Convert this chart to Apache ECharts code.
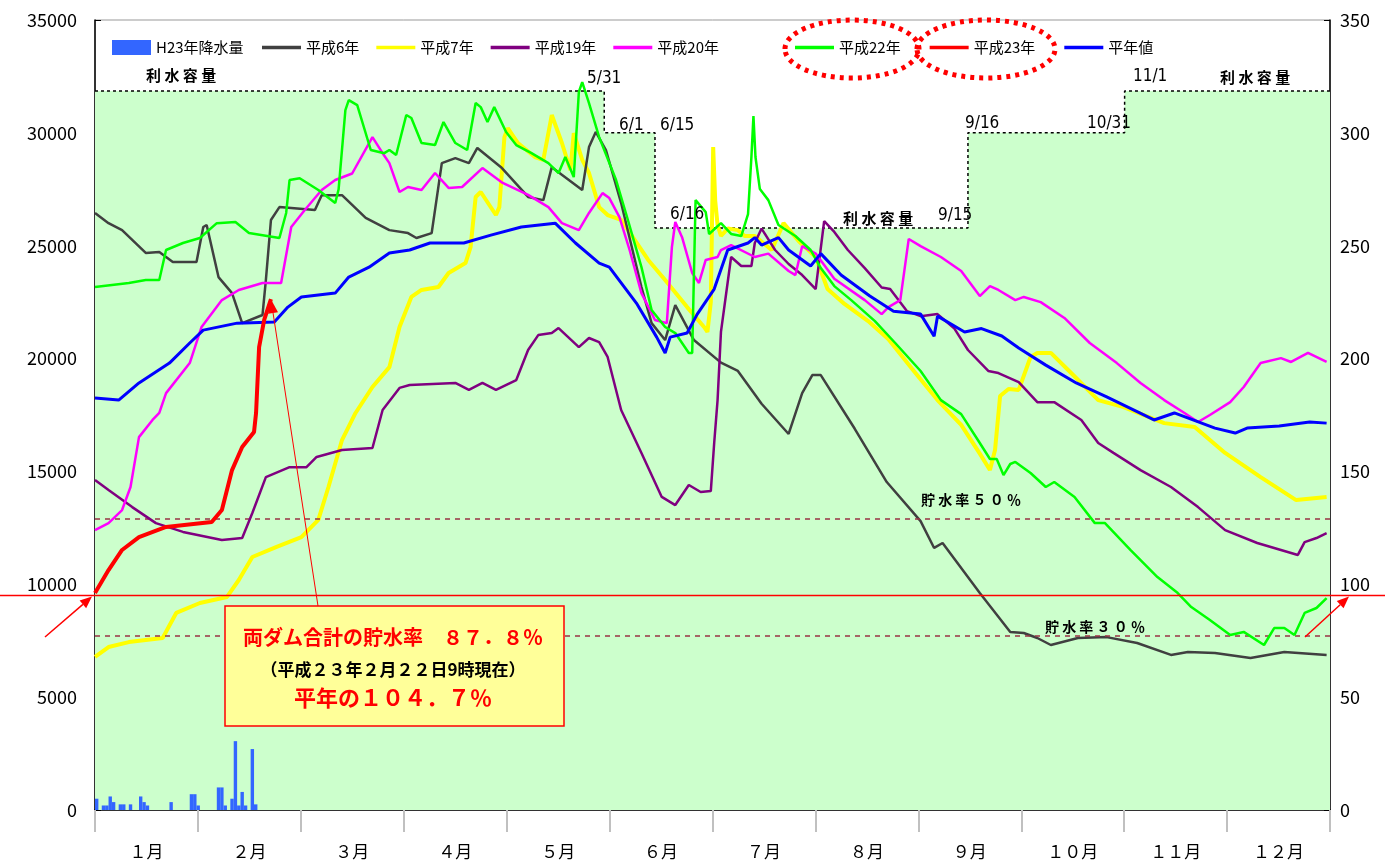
<!DOCTYPE html>
<html>
<head>
<meta charset="utf-8">
<script src="https://cdn.jsdelivr.net/npm/echarts@6/dist/echarts.min.js"></script>
<style>
html, body { margin: 0; padding: 0; background: #fff; }
#chart { width: 1385px; height: 864px; }
</style>
</head>
<body>
<div id="chart"></div>
<script>
'use strict';
var FONT = "'Noto Sans CJK JP', sans-serif";

var months = ['１月', '２月', '３月', '４月', '５月', '６月', '７月', '８月', '９月', '１０月', '１１月', '１２月'];

// 利水容量 (day of year, 千m3)
var capacity = [[0, 31850], [150.5, 31850], [150.5, 30000], [165.5, 30000], [165.5, 25780], [258, 25780],
	[258, 30000], [304.3, 30000], [304.3, 31850], [365, 31850]];
var rate50 = 12890;
var rate30 = 7734;
var nowLevel = 9500;

// H23年降水量 (mm)
var rainDays = [0, 2, 3, 4, 5, 7, 8, 10, 13, 14, 15, 22, 28, 29, 30, 36, 37, 38, 40, 41, 42, 43, 44, 46, 47];
var rainMm = [5, 2, 2, 6, 3.5, 2.5, 2.5, 2.5, 6, 3.5, 2, 3.5, 7, 7, 2, 10, 10, 2, 5, 30.5, 2, 8, 2, 27, 2.5];

var heisei6 = [[0,26450],[4,26000],[8,25690],[15,24680],[19,24720],[23,24280],[30,24280],[32,25830],[33,25920],
	[36.5,23610],[40.5,22900],[43.5,21570],[49.5,21930],[50.5,23480],[52,26140],[54.5,26710],[65,26580],[67,27240],
	[73,27240],[80,26230],[87,25690],[92.5,25560],[95,25340],[99.5,25560],[102.5,28660],[106.5,28880],[110.5,28660],
	[113,29330],[120,28480],[128,27160],[132.5,27020],[135,28480],[144,27470],[146,29370],[148,30040],[151,29240],
	[155.5,26890],[161.5,23170],[164.5,21570],[168.5,20820],[171.5,22370],[177,20820],[185,19820],[190,19450],
	[197,18000],[205,16660],[209,18470],[212,19270],[214.5,19270],[224.5,16900],[234,14530],[244,12800],[248,11610],
	[250.5,11830],[261.5,9610],[270.5,7890],[274.5,7840],[278.5,7620],[282.5,7310],[290.5,7620],[299,7660],
	[308,7400],[318,6870],[323,7000],[331,6960],[341.5,6730],[351.5,7000],[364,6870]];

var heisei7 = [[0,6780],[4,7220],[10,7440],[20,7620],[24,8730],[31,9170],[39,9440],[42.5,10190],[46.5,11210],
	[53.5,11650],[61,12090],[66,12850],[69,14310],[73,16390],[77,17590],[82,18740],[87,19620],[90,21400],[93.5,22730],
	[96.5,23040],[101.5,23170],[104.5,23790],[109.5,24230],[111,24940],[112.5,27160],[114,27380],[118.5,26360],
	[119.5,26710],[121,29810],[122,30210],[125,29550],[130,28930],[132.5,28800],[135,30790],[138,29550],[140.5,28350],
	[141.5,29990],[144,28800],[146,28220],[149,26710],[151.5,26360],[155.5,26140],[163.5,24370],[168.5,23480],
	[175,22280],[180,21400],[181,21180],[182,22500],[182.7,29370],[183.3,27000],[184,25920],[185,25430],[187,25760],
	[190,25690],[192,25430],[195,25430],[200,24810],[203.5,26000],[208,25200],[213,24500],[216.5,23080],[221.5,22420],
	[228.5,21660],[234.5,20860],[242,19450],[249,18160],[256,17060],[261.5,15790],[264.5,15060],[266,15950],
	[267.5,18340],[270,18650],[273,18610],[276.5,20070],[278.5,20250],[282.5,20250],[288.5,19360],[296.5,18160],
	[304,17850],[316,17140],[325,16970],[334,15820],[344.5,14750],[355,13730],[364,13870]];

var heisei19 = [[0,14620],[4,14180],[11,13420],[18,12710],[26,12320],[37.5,11960],[43.5,12050],[46.5,13160],
	[50.5,14750],[57.5,15190],[62.5,15190],[65.5,15640],[73,15950],[82,16040],[85,17720],[90,18700],[93,18830],
	[106.5,18920],[110.5,18610],[114.5,18920],[118.5,18610],[124.5,19050],[128,20380],[131,21040],[135,21130],
	[137,21350],[143,20510],[146,20910],[149,20730],[151.5,20070],[155.5,17720],[161.5,15820],[167.5,13870],
	[171.5,13510],[175.5,14400],[179,14090],[182,14130],[183,16260],[184,18160],[185,21180],[188,24500],[191,24100],
	[194,24100],[195,25120],[197,25760],[201,24810],[205,24190],[209,23700],[213,23080],[215.5,26090],[218.5,25610],
	[222.5,24810],[227.5,24010],[232.5,23150],[235,23080],[240,22100],[244,21880],[249,21970],[254,21330],
	[258,20380],[264,19450],[267,19360],[273,18960],[278.5,18070],[283.5,18070],[291.5,17280],[296.5,16260],
	[301,15820],[309,15060],[318,14310],[326,13420],[334,12400],[343.5,11830],[350.5,11520],[355.5,11300],
	[357.5,11870],[361,12050],[364,12270]];

var heisei20 = [[0,12400],[4,12710],[8,13290],[10.5,14310],[13,16520],[17,17280],[19,17590],[21,18470],[28,19800],
	[31.5,21400],[37.5,22590],[42.5,23040],[49.5,23350],[55,23350],[58,25830],[62,26580],[67,27470],[71,27910],
	[76,28200],[82,29810],[85,29100],[87,28660],[90,27380],[92.5,27600],[96.5,27470],[100.5,28220],[104.5,27560],
	[108.5,27600],[114.5,28440],[120.5,27780],[128,27250],[134,26710],[138,26000],[143,25690],[146,26450],
	[150,27330],[152,27110],[155,26270],[158,24810],[161.5,22900],[165.5,21710],[169,21570],[170.5,24940],
	[171.5,26050],[173.5,25380],[176.5,23790],[178.5,23350],[180.5,24370],[184,24500],[185,24810],[188,25030],
	[195,24500],[199,24650],[205,23880],[207,23700],[209,24980],[213,24650],[218.5,23540],[227.5,22590],
	[232.5,21970],[234.5,22280],[238,22590],[240.5,25300],[244,24980],[250,24500],[256,23880],[261.5,22770],
	[264.5,23210],[267,23040],[272,22590],[274.5,22730],[279.5,22500],[286.5,21800],[294,20690],[302,19800],
	[309,18920],[316,18160],[322,17590],[326,17190],[329.5,17500],[335.5,18070],[339.5,18740],[344.5,19800],
	[350.5,20020],[353.5,19850],[358.5,20250],[364,19850]];

var heisei22 = [[0,23170],[10,23350],[15,23480],[19,23480],[21,24810],[26,25120],[31,25340],[36,26000],[41.5,26050],
	[45.5,25560],[54.5,25340],[56.5,26450],[57.5,27910],[60.5,27990],[66,27470],[71,26890],[72,27500],[74,31010],
	[75,31450],[77.5,31230],[81.5,29240],[85.5,29100],[87,29240],[89,29020],[92,30790],[93.5,30660],[96.5,29550],
	[100.5,29460],[103,30480],[106.5,29550],[110,29240],[112.5,31320],[114,31140],[116,30480],[118,31140],
	[121.5,30040],[124.5,29460],[129,29100],[134,28660],[137,28220],[139,28930],[141.5,28040],[143,31810],
	[144,32250],[146,31320],[149,29810],[154,27910],[157.5,26140],[161.5,24050],[164.5,22150],[168.5,21400],
	[171.5,21130],[175.5,20250],[176.5,20250],[177.5,27020],[180.5,26490],[181.5,25520],[185,26000],[188,25520],
	[191,25430],[193,26400],[194,28930],[194.6,30740],[195.2,28930],[196.5,27510],[199,27020],[202,25920],
	[207,25430],[211.5,24810],[214.5,24010],[218.5,23210],[223.5,22590],[230.5,21660],[236.5,20690],[244,19450],
	[250,18160],[256,17540],[261.5,16260],[264.5,15550],[266.5,15550],[268.5,14840],[270.5,15330],[272,15420],
	[276.5,14930],[281,14310],[283.5,14530],[289.5,13870],[295.5,12710],[298.5,12710],[306,11520],[314,10320],
	[320,9610],[324,8990],[329.5,8420],[335.5,7750],[339.5,7890],[345.5,7310],[348.5,8060],[351.5,8060],
	[354.5,7750],[357.5,8730],[361,8950],[364,9390]];

var heisei23 = [[0,9610],[4,10630],[8,11520],[13,12090],[21,12540],[34.5,12760],[37.5,13290],[40.5,15060],
	[43.5,16080],[47,16750],[47.6,17590],[48.5,20510],[50,21710],[52,22630]];

var normalYear = [[0,18250],[7,18160],[13,18920],[22,19800],[28,20690],[32,21260],[42,21570],[53,21620],[57,22280],
	[61,22730],[71,22900],[75,23610],[81,24050],[87,24680],[93,24810],[99,25120],[109,25120],[117,25470],[126,25830],
	[136,26000],[142,25120],[149,24230],[152,24050],[160,22460],[166,20950],[168.5,20250],[170,20950],[175,21130],
	[178,21970],[183,23080],[187,24810],[193,25120],[195,25360],[197,25030],[202,25360],[205,24810],[211.5,24100],
	[214.5,24650],[220.5,23700],[229,22770],[236,22100],[244,21970],[248,20990],[249,21880],[257,21180],[262,21330],
	[268,21000],[273,20470],[281,19710],[290,18920],[299,18300],[313,17280],[319,17590],[331,16920],[337,16700],
	[340.5,16920],[350,17010],[359,17190],[364,17140]];

function lineSeries(name, data, color, width, z) {
	return {
		name: name,
		type: 'line',
		data: data,
		symbol: 'none',
		z: z,
		lineStyle: {color: color, width: width},
		itemStyle: {color: color}
	};
}

function legendBlock(left, top, gap, names, h) {
	return {
		top: top,
		left: left,
		padding: 0,
		itemWidth: 39,
		itemHeight: h,
		itemGap: gap,
		icon: 'rect',
		textStyle: {fontSize: 15, color: '#000', fontFamily: FONT},
		data: names
	};
}

var chart = echarts.init(document.getElementById('chart'));
var option = {
	animation: false,
	textStyle: {fontFamily: FONT},
	grid: {left: 95, right: 55, top: 20, bottom: 54, show: true, borderColor: '#999', borderWidth: 1},
	legend: [
		legendBlock(112, 40, 17, ['H23年降水量'], 15),
		legendBlock(262, 40, 17, ['平成6年', '平成7年', '平成19年', '平成20年'], 3.5),
		legendBlock(795, 40, 29, ['平成22年', '平成23年', '平年値'], 3.5)
	],
	xAxis: [
		{
			type: 'value', min: 0, max: 365,
			axisLine: {show: true, lineStyle: {color: '#000', width: 1.5}},
			axisTick: {show: false}, axisLabel: {show: false}, splitLine: {show: false}
		},
		{
			type: 'category', data: months, position: 'bottom', offset: 5, boundaryGap: true,
			axisLine: {show: false},
			axisTick: {show: true, length: 22, lineStyle: {color: '#c0c0c0', width: 2}},
			axisLabel: {margin: 28, fontSize: 17, color: '#000', fontFamily: FONT},
			splitLine: {show: false}
		}
	],
	yAxis: [
		{
			type: 'value', min: 0, max: 35000, interval: 5000,
			axisLine: {show: true, lineStyle: {color: '#000', width: 1.5}},
			axisTick: {show: true, inside: true, length: 6, lineStyle: {color: '#000'}},
			axisLabel: {fontSize: 18, color: '#000', margin: 18, fontFamily: FONT,
				formatter: function (v) { return String(v); }},
			splitLine: {show: false}
		},
		{
			type: 'value', min: 0, max: 350, interval: 50, position: 'right',
			axisLine: {show: true, lineStyle: {color: '#000', width: 1.5}},
			axisTick: {show: true, inside: true, length: 6, lineStyle: {color: '#000'}},
			axisLabel: {fontSize: 18, color: '#000', margin: 10, fontFamily: FONT},
			splitLine: {show: false}
		}
	],
	series: [
		{
			name: '利水容量',
			type: 'line',
			data: capacity,
			symbol: 'none',
			silent: true,
			z: 1,
			lineStyle: {color: '#000', width: 1.5, type: [3, 3]},
			areaStyle: {color: '#ccffcc', opacity: 1},
			markLine: {
				silent: true,
				symbol: 'none',
				label: {show: false},
				lineStyle: {color: '#993344', width: 1.5, type: [5, 5]},
				data: [{yAxis: rate50}, {yAxis: rate30}]
			}
		},
		{
			name: 'H23年降水量',
			type: 'bar',
			yAxisIndex: 1,
			barWidth: 3.4,
			z: 2,
			itemStyle: {color: '#3366ff'},
			data: rainDays.map(function (d, i) { return [d + 0.5, rainMm[i]]; })
		},
		lineSeries('平成7年', heisei7, '#ffff00', 4, 3),
		lineSeries('平成6年', heisei6, '#404040', 2.5, 4),
		lineSeries('平成19年', heisei19, '#800080', 2.5, 5),
		lineSeries('平成20年', heisei20, '#ff00ff', 2.5, 6),
		lineSeries('平成22年', heisei22, '#00ff00', 2.5, 7),
		lineSeries('平年値', normalYear, '#0000ff', 3, 8),
		lineSeries('平成23年', heisei23, '#ff0000', 4, 9)
	]
};
chart.setOption(option);

// annotations
function arrow(x1, y1, x2, y2, len, half, width) {
	var dx = x2 - x1, dy = y2 - y1;
	var L = Math.sqrt(dx * dx + dy * dy);
	var ux = dx / L, uy = dy / L;
	var bx = x2 - ux * len, by = y2 - uy * len;
	return [
		{type: 'line', z: 50, shape: {x1: x1, y1: y1, x2: bx, y2: by}, style: {stroke: '#ff0000', lineWidth: width}},
		{type: 'polygon', z: 50, shape: {points: [[x2, y2], [bx - uy * half, by + ux * half], [bx + uy * half, by - ux * half]]},
			style: {fill: '#ff0000'}}
	];
}
function label(text, x, y, size, bold, color, family) {
	return {
		type: 'text', x: x, y: y, z: 40,
		style: {
			text: text, fill: color || '#000',
			font: (bold ? 'bold ' : '') + size + 'px ' + (family || FONT),
			align: 'left', verticalAlign: 'middle'
		}
	};
}
var NARROW = "'Liberation Sans Narrow', 'DejaVu Sans Condensed', sans-serif";

var yNow = chart.convertToPixel({yAxisIndex: 0}, nowLevel);
var last = heisei23[heisei23.length - 1];
var tip = chart.convertToPixel({xAxisIndex: 0, yAxisIndex: 0}, last);

var g = [
	{type: 'line', z: 30, shape: {x1: 0, y1: yNow, x2: 1385, y2: yNow}, style: {stroke: '#ff0000', lineWidth: 1.5}},
	{type: 'ellipse', z: 60, shape: {cx: 852, cy: 49, rx: 67, ry: 29},
		style: {fill: 'transparent', stroke: '#ff0000', lineWidth: 5, lineDash: [4, 5]}},
	{type: 'ellipse', z: 60, shape: {cx: 986, cy: 49, rx: 69, ry: 29},
		style: {fill: 'transparent', stroke: '#ff0000', lineWidth: 5, lineDash: [4, 5]}},
	label('利 水 容 量', 146, 75, 15, true),
	label('利 水 容 量', 843, 218, 15, true),
	label('利 水 容 量', 1220, 77, 15, true),
	label('5/31', 587, 79, 17, false, '#000', NARROW),
	label('6/1', 619, 126, 17, false, '#000', NARROW),
	label('6/15', 660, 126, 17, false, '#000', NARROW),
	label('6/16', 670, 215, 17, false, '#000', NARROW),
	label('9/15', 938, 216, 17, false, '#000', NARROW),
	label('9/16', 965, 124, 17, false, '#000', NARROW),
	label('10/31', 1087, 124, 17, false, '#000', NARROW),
	label('11/1', 1133, 77, 17, false, '#000', NARROW),
	label('貯 水 率 ５ ０ ％', 921, 500, 14, true),
	label('貯 水 率 ３ ０ ％', 1045, 627, 14, true),
	{type: 'rect', z: 70, shape: {x: 225, y: 606, width: 339, height: 120},
		style: {fill: '#ffff99', stroke: '#ff0000', lineWidth: 1.5}},
	{type: 'text', z: 71, x: 393, y: 637, style: {text: '両ダム合計の貯水率　８７．８％', fill: '#ff0000',
		font: 'bold 20px ' + FONT, align: 'center', verticalAlign: 'middle'}},
	{type: 'text', z: 71, x: 393, y: 670, style: {text: '（平成２３年２月２２日9時現在）', fill: '#000',
		font: 'bold 17px ' + FONT, align: 'center', verticalAlign: 'middle'}},
	{type: 'text', z: 71, x: 393, y: 698, style: {text: '平年の１０４．７％', fill: '#ff0000',
		font: 'bold 22px ' + FONT, align: 'center', verticalAlign: 'middle'}}
];
g = g.concat(arrow(318, 606, tip[0], tip[1], 14, 5, 1));
g = g.concat(arrow(45, 637, 92, yNow + 1, 12, 5, 1.5));
g = g.concat(arrow(1305, 637, 1349, yNow + 1, 12, 5, 1.5));

chart.setOption({graphic: g});
</script>
</body>
</html>
